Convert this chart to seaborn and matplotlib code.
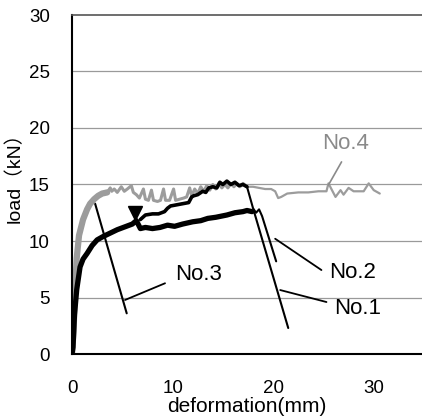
import numpy as np
import pandas as pd
import matplotlib
matplotlib.use('Agg')
import matplotlib.pyplot as plt
import seaborn as sns

# No.1 - thick black curve, then its drop line
x1 = [0.0, 0.1, 0.25, 0.47, 0.8, 1.1, 1.5, 2.0, 2.5, 3.1, 3.8, 4.5, 5.4, 6.0, 6.4, 6.8, 7.3, 8.0,
      8.75, 9.5, 10.2, 11.0, 12.0, 12.8, 13.5, 14.3, 15.4, 16.2, 17.0, 17.4, 17.9]
y1 = [0.0, 0.6, 3.5, 5.7, 7.7, 8.4, 8.9, 9.6, 10.1, 10.4, 10.7, 11.0, 11.3, 11.5, 11.8, 11.1, 11.2, 11.1,
      11.2, 11.4, 11.3, 11.5, 11.7, 11.8, 12.0, 12.1, 12.3, 12.5, 12.6, 12.7, 12.6]
x1_drop = [18.1, 21.5]
y1_drop = [12.6, 2.3]

# No.2 - medium black curve starting at the triangle
x2 = [6.8, 7.3, 8.0, 8.6, 9.2, 9.5, 9.8, 10.4, 11.0, 11.6, 11.9, 12.1, 12.5, 13.0, 13.3, 13.6,
      14.0, 14.4, 14.7, 15.0, 15.4, 15.8, 16.2, 16.6, 17.0, 17.4]
y2 = [11.9, 12.3, 12.4, 12.4, 12.6, 12.9, 13.1, 13.2, 13.3, 13.4, 13.9, 14.0, 14.1, 14.4, 14.3, 14.7,
      14.8, 14.7, 15.2, 15.0, 15.3, 15.0, 15.2, 14.9, 15.0, 14.8]
x2_drop = [17.4, 18.0, 18.3, 18.6, 18.9, 20.3]
y2_drop = [14.8, 12.9, 12.5, 12.8, 12.2, 8.2]

# No.3 - only its fall is visible, the rise sits under No.4
x3 = [2.3, 5.44]
y3 = [13.3, 3.6]

# No.4 - grey curve (rise, plateau with spikes, tail)
x4_rise = [0.0, 0.15, 0.3, 0.47, 0.7, 1.1, 1.5, 1.8, 2.2, 2.6, 3.0, 3.5]
y4_rise = [0.0, 2.0, 5.5, 8.5, 10.5, 11.9, 12.8, 13.3, 13.7, 14.0, 14.2, 14.3]
x4_mid = [3.5, 3.8, 3.95, 4.2, 4.5, 4.9, 5.2, 5.5, 5.9, 6.1, 6.4, 6.7, 7.1, 7.3, 7.6, 7.9, 8.1, 8.5,
          8.8, 9.1, 9.3, 9.7, 10.1, 10.3, 10.7, 11.1, 11.4, 11.7, 11.9, 12.2, 12.5, 12.8, 13.1, 13.4,
          13.7, 14.0, 14.3, 14.6, 14.9, 15.2, 15.5, 15.8, 16.1, 16.4, 16.7, 17.0, 17.4]
y4_mid = [14.3, 14.7, 14.4, 14.6, 14.3, 14.8, 14.4, 14.6, 14.9, 14.3, 14.1, 13.8, 14.6, 13.7, 13.6, 14.5,
          13.6, 13.5, 13.6, 14.6, 13.6, 13.6, 14.6, 13.6, 13.7, 13.8, 13.9, 14.7, 14.0, 14.6, 14.2, 14.8,
          14.4, 14.9, 14.5, 15.0, 14.6, 15.1, 14.7, 15.0, 14.7, 15.1, 14.8, 15.1, 14.8, 15.1, 14.8]
x4_tail = [17.4, 18.0, 18.6, 19.2, 19.8, 20.2, 20.5, 20.8, 21.4, 22.5, 23.5, 24.5, 25.3, 25.5, 26.2,
           26.7, 27.0, 27.5, 28.0, 29.0, 29.5, 30.0, 30.6]
y4_tail = [14.8, 14.8, 14.7, 14.6, 14.6, 14.4, 13.8, 13.9, 14.2, 14.3, 14.3, 14.4, 14.4, 15.1, 13.9,
           14.5, 14.1, 14.7, 14.4, 14.4, 15.1, 14.5, 14.2]

x_ticks = [0, 10, 20, 30]
y_ticks = [0, 5, 10, 15, 20, 25, 30]

sns.set_style("white")
plt.rcParams['font.family'] = ['Liberation Sans', 'Noto Sans CJK JP', 'DejaVu Sans']
plt.rcParams['text.color'] = 'black'
plt.rcParams['axes.labelcolor'] = 'black'
plt.rcParams['xtick.color'] = 'black'
plt.rcParams['ytick.color'] = 'black'

fig = plt.figure(figsize=(4.22, 4.19), dpi=100)
ax = fig.add_axes([72/422, 65/419, 1 - 72/422, 339/419])

for g in y_ticks[1:-1]:
    ax.axhline(g, color='#9a9a9a', lw=0.9, zorder=0)

sns.lineplot(x=x3, y=y3, ax=ax, color='black', lw=1.5, sort=False, estimator=None)
sns.lineplot(x=x4_rise, y=y4_rise, ax=ax, color='#9c9c9c', lw=4.5, sort=False, estimator=None)
sns.lineplot(x=x4_mid, y=y4_mid, ax=ax, color='#9c9c9c', lw=2.2, sort=False, estimator=None)
sns.lineplot(x=x4_tail, y=y4_tail, ax=ax, color='#9c9c9c', lw=1.6, sort=False, estimator=None)
sns.lineplot(x=x1, y=y1, ax=ax, color='black', lw=3.8, sort=False, estimator=None)
sns.lineplot(x=x1_drop, y=y1_drop, ax=ax, color='black', lw=1.5, sort=False, estimator=None)
sns.lineplot(x=x2, y=y2, ax=ax, color='black', lw=2.6, sort=False, estimator=None)
sns.lineplot(x=x2_drop, y=y2_drop, ax=ax, color='black', lw=1.5, sort=False, estimator=None)
ax.plot([6.3], [12.5], marker='v', color='black', markersize=10, ls='none')

# labels with leader lines
ax.text(12.6, 7.0, 'No.3', fontsize=16, ha='center', va='center', color='black')
ax.plot([9.25, 5.27], [6.26, 4.78], color='black', lw=1.3)
ax.text(27.9, 7.2, 'No.2', fontsize=16, ha='center', va='center', color='black')
ax.plot([24.8, 20.2], [7.43, 10.2], color='black', lw=1.3)
ax.text(28.4, 4.0, 'No.1', fontsize=16, ha='center', va='center', color='black')
ax.plot([25.3, 20.7], [4.6, 5.66], color='black', lw=1.3)
ax.text(27.2, 18.6, 'No.4', fontsize=16, ha='center', va='center', color='#8a8a8a')
ax.plot([26.8, 25.5], [17.0, 14.96], color='#8a8a8a', lw=1.2)

ax.set_xlim(0, 34.8)
ax.set_ylim(0, 30)
ax.set_xticks(x_ticks)
ax.set_yticks(y_ticks)
ax.tick_params(axis='x', direction='in', length=4, width=1, pad=19, labelsize=13.5, colors='black')
ax.tick_params(axis='y', length=0, pad=16, labelsize=13.5, colors='black')

ax.set_xlabel('deformation(mm)', fontsize=15)
ax.xaxis.label.set_va('center')
ax.xaxis.set_label_coords(0.5, -0.155)
ax.set_ylabel('load（kN）', fontsize=14)
ax.yaxis.label.set_va('center')
ax.yaxis.set_label_coords(-0.165, 0.535)

for s in ['left', 'bottom']:
    ax.spines[s].set_color('black')
    ax.spines[s].set_linewidth(1.5)
ax.spines['top'].set_color('#555555')
ax.spines['top'].set_linewidth(1.2)
ax.spines['right'].set_visible(False)

fig.savefig('out.png', dpi=100)
